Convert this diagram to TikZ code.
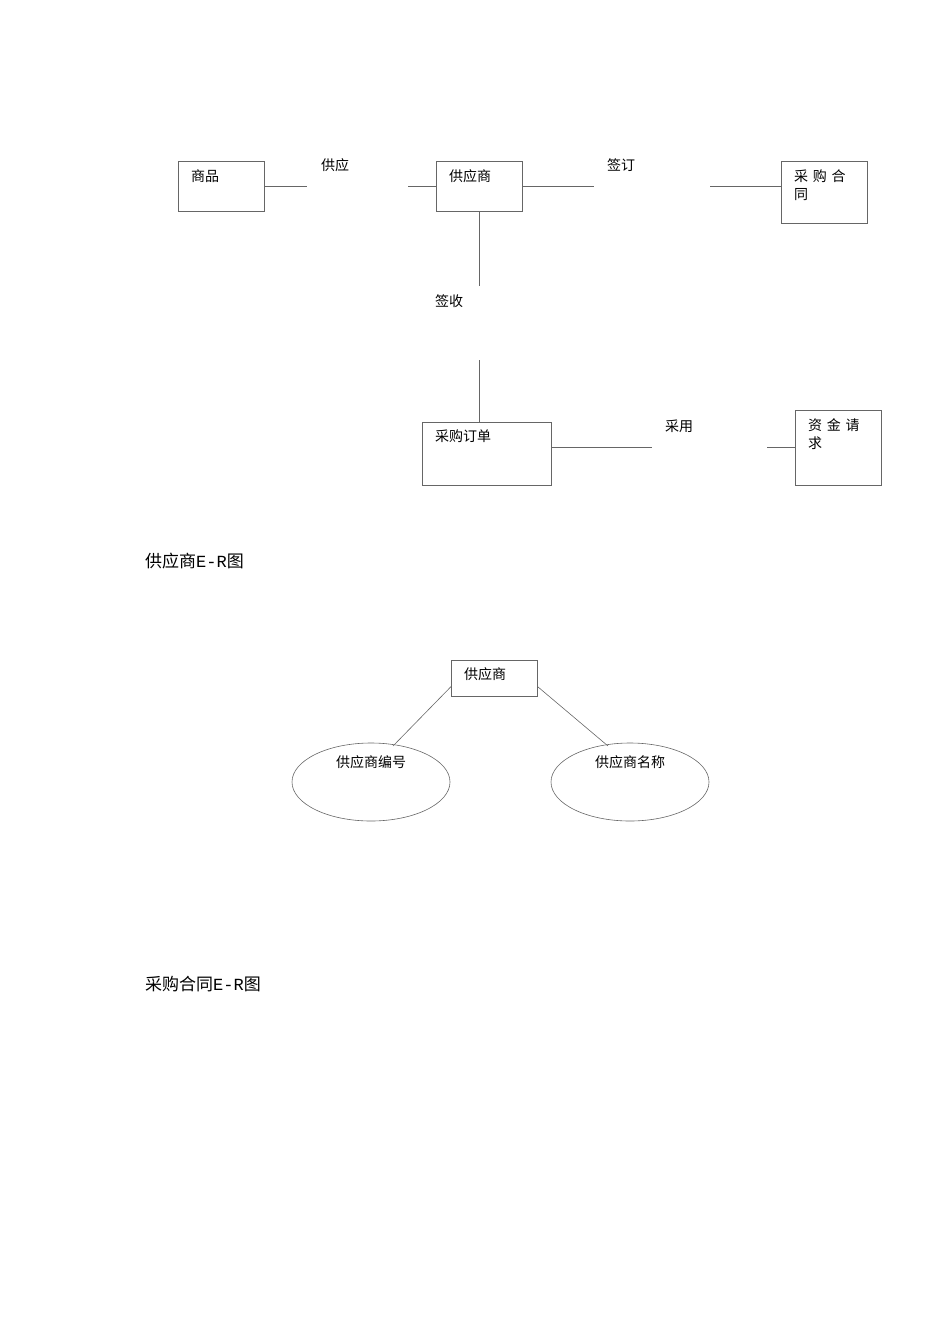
\documentclass[tikz,border=0pt]{standalone}
\usetikzlibrary{shapes.geometric}
\usepackage{fontspec}
\newfontfamily\cjk{Noto Sans CJK SC}
\newfontfamily\mono{Liberation Mono}
\begin{document}
\begin{tikzpicture}[x=1pt,y=-1pt,
  box/.style={draw=black!60,line width=0.6pt,inner sep=0pt},
  lbl/.style={font=\cjk\fontsize{14}{17}\selectfont,inner sep=0pt},
  ln/.style={draw=black!60,line width=0.6pt}]
\useasboundingbox (0,0) rectangle (950,1344);
\newcommand{\bx}[5]{\node[box,minimum width=#4-#2,minimum height=#5-#3,anchor=north west] (#1) at (#2,#3) {};}
\bx{sp}{178}{161}{264}{211}
\bx{gys}{436}{161}{522}{211}
\bx{cght}{781}{161}{867}{223}
\bx{cgdd}{422}{422}{551}{485}
\bx{zjqq}{795}{410}{881}{485}
\node[lbl,anchor=north west] at (191,169) {商品};
\node[lbl,anchor=north west] at (449,169) {供应商};
\node[lbl,anchor=north west,align=left] at (794,169) {采\,\,购\,\,合\\[1pt]同};
\node[lbl,anchor=north west] at (435,430) {采购订单};
\node[lbl,anchor=north west,align=left] at (808,418) {资\,\,金\,\,请\\[1pt]求};
\node[lbl] (r1) at (335,165) {供应};
\node[lbl] (r2) at (621,165) {签订};
\node[lbl] (r3) at (449,301) {签收};
\node[lbl] (r4) at (679,426) {采用};
\coordinate (a1) at (307,186); \coordinate (a2) at (408,186);
\coordinate (b1) at (594,186); \coordinate (b2) at (710,186);
\coordinate (c1) at (479,286); \coordinate (c2) at (479,360);
\coordinate (d1) at (652,447); \coordinate (d2) at (767,447);
\draw[ln] (sp.east|-a1) -- (a1);
\draw[ln] (a2) -- (gys.west|-a2);
\draw[ln] (gys.east|-b1) -- (b1);
\draw[ln] (b2) -- (cght.west|-b2);
\draw[ln] (gys.south-|c1) -- (c1);
\draw[ln] (c2) -- (cgdd.north-|c2);
\draw[ln] (cgdd.east|-d1) -- (d1);
\draw[ln] (d2) -- (zjqq.west|-d2);
\node[anchor=west,inner sep=0pt,font=\fontsize{17}{20}\selectfont] (cap1) at (145,561) {{\cjk 供应商}{\mono E-R}{\cjk 图}};
\bx{g2}{451}{660}{537}{696}
\node[lbl,anchor=north west] at (464,667) {供应商};
\node[draw=black!60,line width=0.6pt,ellipse,minimum width=158,minimum height=78,inner sep=0pt] (e1) at (371,782) {};
\node[draw=black!60,line width=0.6pt,ellipse,minimum width=158,minimum height=78,inner sep=0pt] (e2) at (630,782) {};
\node[lbl] at (371,762) {供应商编号};
\node[lbl] at (630,762) {供应商名称};
\draw[ln] (g2.south west)++(0,-10) -- (393,746);
\draw[ln] (g2.south east)++(0,-10) -- (608,746);
\node[anchor=west,inner sep=0pt,font=\fontsize{17}{20}\selectfont] (cap2) at (145,984) {{\cjk 采购合同}{\mono E-R}{\cjk 图}};
\end{tikzpicture}
\end{document}
